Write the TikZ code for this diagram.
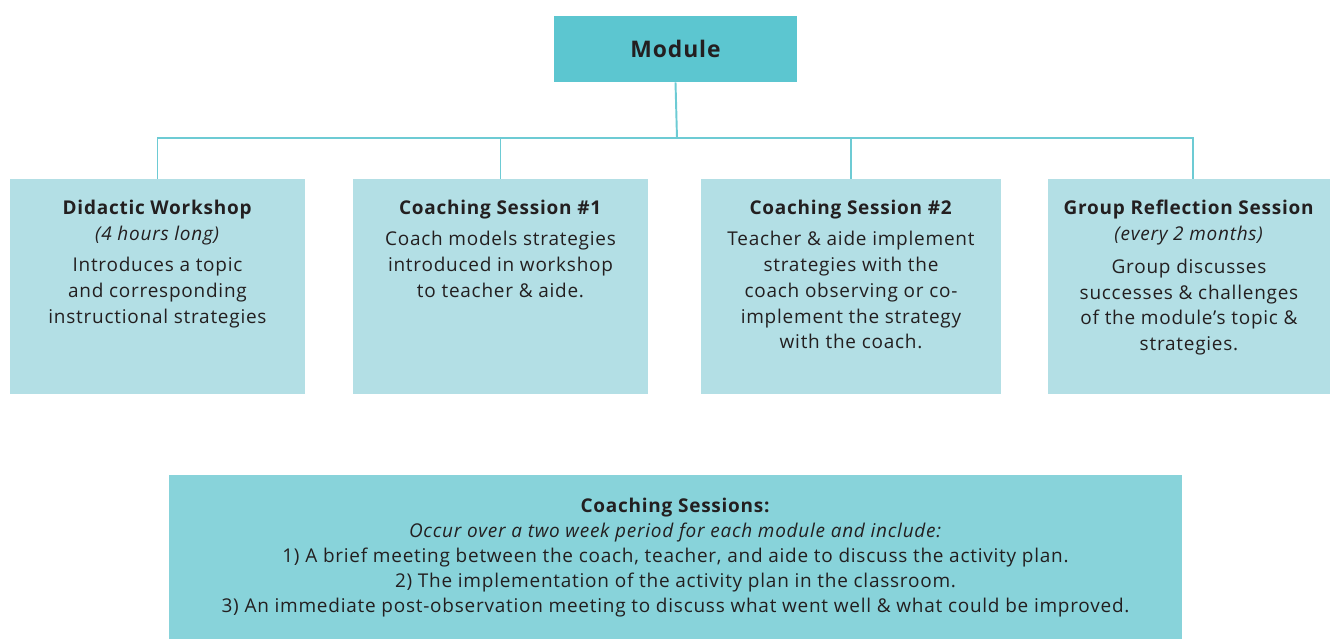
\documentclass[tikz,border=0pt]{standalone}
\usepackage{fontspec}
\setmainfont{Open Sans}[LetterSpace=4]
\usepackage{tikz}
\usetikzlibrary{positioning}
\definecolor{modfill}{HTML}{5CC6D0}
\definecolor{boxfill}{HTML}{B3DFE5}
\definecolor{notefill}{HTML}{88D3DA}
\definecolor{linkcol}{HTML}{6DCBD4}
\definecolor{inkcol}{HTML}{231F20}
\begin{document}
\begin{tikzpicture}[x=0.02cm,y=-0.02cm]
\tikzstyle{every node}+=[inner sep=0pt, text=inkcol]
\tikzstyle{stage}=[fill=boxfill, minimum height=4.3cm]
\tikzstyle{blurb}=[align=center, font=\fontsize{10.8}{14.7}\selectfont]
\tikzstyle{link}=[linkcol, line width=1.1pt]
\useasboundingbox (0,0) rectangle (1330,639);
% module on top
\node [fill=modfill, minimum width=4.86cm, minimum height=1.32cm,
  font=\fontsize{13}{16}\selectfont\bfseries] (module) at (675.5,49) {Module};
% the four stages
\node [stage, minimum width=5.9cm] (workshop) at (157.5,286.5) {};
\node [stage, minimum width=5.9cm] (coachA) at (500.5,286.5) {};
\node [stage, minimum width=6.0cm] (coachB) at (851,286.5) {};
\node [stage, minimum width=5.64cm] (reflect) at (1189,286.5) {};
\node [blurb, below=0.42cm of workshop.north] (workshoptxt)
  {\textbf{Didactic Workshop}\\ \textit{(4 hours long)}\\[3pt]
   Introduces a topic\\ and corresponding\\ instructional strategies};
\node [blurb, below=0.42cm of coachA.north] (coachAtxt)
  {\textbf{Coaching Session \#1}\\[3pt] Coach models strategies\\
   introduced in workshop\\ to teacher \& aide.};
\node [blurb, below=0.42cm of coachB.north] (coachBtxt)
  {\textbf{Coaching Session \#2}\\[3pt] Teacher \& aide implement\\
   strategies with the\\ coach observing or co-\\
   implement the strategy\\ with the coach.};
\node [blurb, below=0.42cm of reflect.north] (reflecttxt)
  {\textbf{Group Reflection Session}\\ \textit{(every 2 months)}\\[4pt]
   Group discusses\\ successes \& challenges\\ of the module’s topic \&\\
   strategies.};
% connectors
\coordinate (bus) at (677,138);
\draw [link] (module.south) -- (bus);
\draw [link] (workshop.north) |- (bus) -| ([xshift=0.08cm]reflect.north);
\draw [link] (coachA.north) -- (coachA.north |- bus);
\draw [link] (coachB.north) -- (coachB.north |- bus);
% note at the bottom
\node [fill=notefill, minimum width=20.26cm, minimum height=3.3cm,
  align=center, font=\fontsize{10.8}{14.3}\selectfont] (note) at (675.5,557.5)
  {\textbf{Coaching Sessions:}\\
   \textit{Occur over a two week period for each module and include:}\\
   1) A brief meeting between the coach, teacher, and aide to discuss the activity plan.\\
   2) The implementation of the activity plan in the classroom.\\
   3) An immediate post-observation meeting to discuss what went well \& what could be improved.};
\end{tikzpicture}
\end{document}
